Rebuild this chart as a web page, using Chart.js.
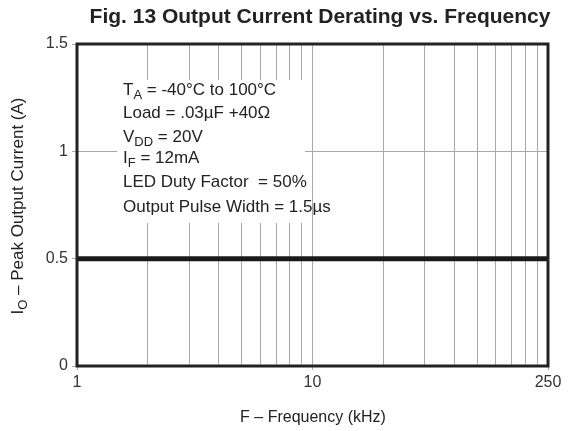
<!DOCTYPE html>
<html>
<head>
<meta charset="utf-8">
<script src="https://cdn.jsdelivr.net/npm/chart.js@4.4.1/dist/chart.umd.min.js"></script>
<style>
  html, body { margin: 0; padding: 0; background: #fff; }
  #wrap { width: 570px; height: 431px; }
</style>
</head>
<body>
<div id="wrap"><canvas id="chart" width="570" height="431"></canvas></div>
<script>
// ==================== DATA ====================
const freqKHz = [1, 100];            // line runs across the whole axis
const peakCurrent = [0.5, 0.5];      // flat derating at 0.5 A
const xGridValues = [1, 2, 3, 4, 5, 6, 7, 8, 9, 10, 20, 30, 40, 50, 60, 70, 80, 90, 100];
const xTickLabels = { 1: '1', 10: '10', 100: '250' };
const yTickValues = [0, 0.5, 1, 1.5];
const noteLines = [
    [['T', ''], ['A', 'sub'], [' = -40°C to 100°C', '']],
    [['Load = .03µF +40Ω', '']],
    [['V', ''], ['DD', 'sub'], [' = 20V', '']],
    [['I', ''], ['F', 'sub'], [' = 12mA', '']],
    [['LED Duty Factor  = 50%', '']],
    [['Output Pulse Width = 1.5µs', '']]
];

const FONT = '"Liberation Sans", Arial, Helvetica, sans-serif';

// draws a run of text pieces, some as subscript
function drawRich(ctx, parts, x, y, size) {
    let cx = x;
    parts.forEach(([txt, kind]) => {
        const sz = kind === 'sub' ? Math.round(size * 0.75) : size;
        ctx.font = sz + 'px ' + FONT;
        ctx.fillText(txt, cx, kind === 'sub' ? y + size * 0.3 : y);
        cx += ctx.measureText(txt).width;
    });
    return cx - x;
}
function richWidth(ctx, parts, size) {
    let w = 0;
    parts.forEach(([txt, kind]) => {
        const sz = kind === 'sub' ? Math.round(size * 0.75) : size;
        ctx.font = sz + 'px ' + FONT;
        w += ctx.measureText(txt).width;
    });
    return w;
}

const decorPlugin = {
    id: 'decor',
    beforeDatasetsDraw(chart) {
        const ctx = chart.ctx;
        ctx.save();
        // white box behind the conditions text
        ctx.fillStyle = '#fff';
        ctx.fillRect(117, 80, 188, 143);
        ctx.fillStyle = '#222';
        ctx.textBaseline = 'middle';
        ctx.textAlign = 'left';
        const ys = [90, 113, 137, 158, 182, 207];
        noteLines.forEach((line, i) => drawRich(ctx, line, 123, ys[i], 17));
        ctx.restore();
    },
    afterDatasetsDraw(chart) {
        const ctx = chart.ctx;
        const a = chart.chartArea;
        ctx.save();
        ctx.strokeStyle = '#222';
        ctx.lineWidth = 3;
        ctx.strokeRect(a.left, a.top, a.right - a.left, a.bottom - a.top);
        ctx.restore();
    },
    afterDraw(chart) {
        const ctx = chart.ctx;
        ctx.save();
        ctx.fillStyle = '#222';
        ctx.textBaseline = 'middle';
        ctx.textAlign = 'center';
        ctx.font = 'bold 21px ' + FONT;
        ctx.fillText('Fig. 13 Output Current Derating vs. Frequency', 320, 17);

        ctx.font = '16px ' + FONT;
        ctx.fillText('F – Frequency (kHz)', 313, 418);

        // rotated y-axis title with subscript
        const yt = [['I', ''], ['O', 'sub'], [' – Peak Output Current (A)', '']];
        ctx.translate(18, 206);
        ctx.rotate(-Math.PI / 2);
        ctx.textAlign = 'left';
        const w = richWidth(ctx, yt, 17);
        drawRich(ctx, yt, -w / 2, 0, 17);
        ctx.restore();
    }
};

const ctx = document.getElementById('chart').getContext('2d');
new Chart(ctx, {
    type: 'line',
    data: {
        datasets: [{
            data: freqKHz.map((f, i) => ({ x: f, y: peakCurrent[i] })),
            borderColor: '#1a1a1a',
            borderWidth: 5,
            pointRadius: 0,
            fill: false
        }]
    },
    options: {
        responsive: false,
        animation: false,
        layout: { padding: { top: 44, right: 22, left: 0, bottom: 0 } },
        plugins: { legend: { display: false }, tooltip: { enabled: false }, title: { display: false } },
        scales: {
            x: {
                type: 'logarithmic',
                min: 1,
                max: 100,
                afterBuildTicks: s => { s.ticks = xGridValues.map(v => ({ value: v })); },
                afterFit: s => { s.height = 65; },
                grid: { color: '#a8a8a8', lineWidth: 1, drawTicks: true, tickLength: 4, tickColor: ctx => (xTickLabels[ctx.tick && ctx.tick.value] ? '#aaa' : 'rgba(0,0,0,0)') },
                border: { display: false },
                ticks: {
                    autoSkip: false,
                    maxRotation: 0,
                    padding: 3,
                    color: '#333',
                    font: { family: FONT, size: 16 },
                    callback: v => xTickLabels[v] || ''
                }
            },
            y: {
                min: 0,
                max: 1.5,
                afterBuildTicks: s => { s.ticks = yTickValues.map(v => ({ value: v })); },
                afterFit: s => { s.width = 77; },
                grid: { color: '#a8a8a8', lineWidth: 1, drawTicks: true, tickLength: 5, tickColor: '#aaa' },
                border: { display: false },
                ticks: {
                    padding: 4,
                    color: '#333',
                    font: { family: FONT, size: 16 },
                    callback: v => String(v)
                }
            }
        }
    },
    plugins: [decorPlugin]
});
</script>
</body>
</html>
